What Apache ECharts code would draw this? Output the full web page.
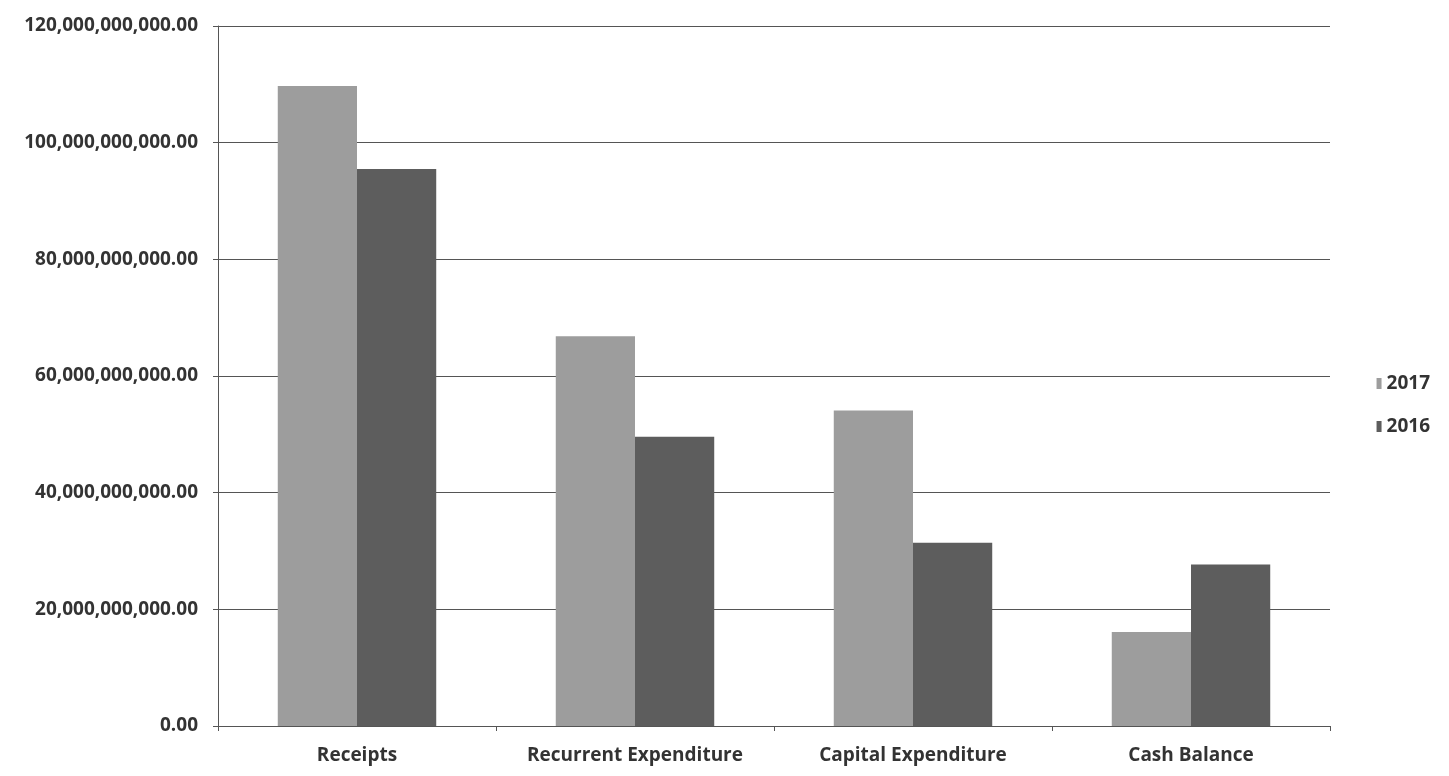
<!DOCTYPE html>
<html>
<head>
<meta charset="utf-8">
<script src="https://cdn.jsdelivr.net/npm/echarts@6/dist/echarts.min.js"></script>
<style>
  html, body { margin: 0; padding: 0; background: #ffffff; }
  #chart { width: 1449px; height: 776px; }
</style>
</head>
<body>
<div id="chart"></div>
<script>
// Budget summary by category, two fiscal years
const categories = ['Receipts', 'Recurrent Expenditure', 'Capital Expenditure', 'Cash Balance'];
const values2017 = [109700000000, 66800000000, 54100000000, 16100000000];
const values2016 = [95500000000, 49600000000, 31400000000, 27700000000];
const yTicks = [0, 20000000000, 40000000000, 60000000000, 80000000000, 100000000000, 120000000000];

const fontFamily = '"Open Sans", "Noto Sans", sans-serif';

function formatMoney(v) {
  return Number(v).toLocaleString('en-US', { minimumFractionDigits: 2, maximumFractionDigits: 2 });
}

const chart = echarts.init(document.getElementById('chart'));
chart.setOption({
  backgroundColor: '#ffffff',
  animation: false,
  grid: { left: 218, right: 119, top: 26, bottom: 50 },
  legend: {
    orient: 'vertical',
    right: 14,
    top: 369,
    itemWidth: 5,
    itemHeight: 11,
    itemGap: 24,
    icon: 'rect',
    textStyle: { fontFamily, fontWeight: 'bold', fontSize: 19, color: '#333333' },
    data: ['2017', '2016']
  },
  xAxis: {
    type: 'category',
    data: categories,
    axisLine: { lineStyle: { color: '#555555', width: 1 } },
    axisTick: { show: true, length: 5, lineStyle: { color: '#555555' } },
    axisLabel: { interval: 0, fontFamily, fontWeight: 'bold', fontSize: 19, color: '#333333', margin: 20 }
  },
  yAxis: {
    type: 'value',
    min: yTicks[0],
    max: yTicks[yTicks.length - 1],
    interval: yTicks[1] - yTicks[0],
    axisLine: { show: true, lineStyle: { color: '#555555', width: 1 } },
    axisTick: { show: true, length: 5, lineStyle: { color: '#555555' } },
    splitLine: { show: true, lineStyle: { color: '#555555', width: 1 } },
    axisLabel: {
      fontFamily, fontWeight: 'bold', fontSize: 19, color: '#333333', margin: 20,
      formatter: formatMoney
    }
  },
  series: [
    {
      name: '2017',
      type: 'bar',
      data: values2017,
      barGap: '0%',
      barCategoryGap: '43%',
      itemStyle: { color: '#9d9d9d' }
    },
    {
      name: '2016',
      type: 'bar',
      data: values2016,
      barGap: '0%',
      barCategoryGap: '43%',
      itemStyle: { color: '#5d5d5d' }
    }
  ]
});
</script>
</body>
</html>
